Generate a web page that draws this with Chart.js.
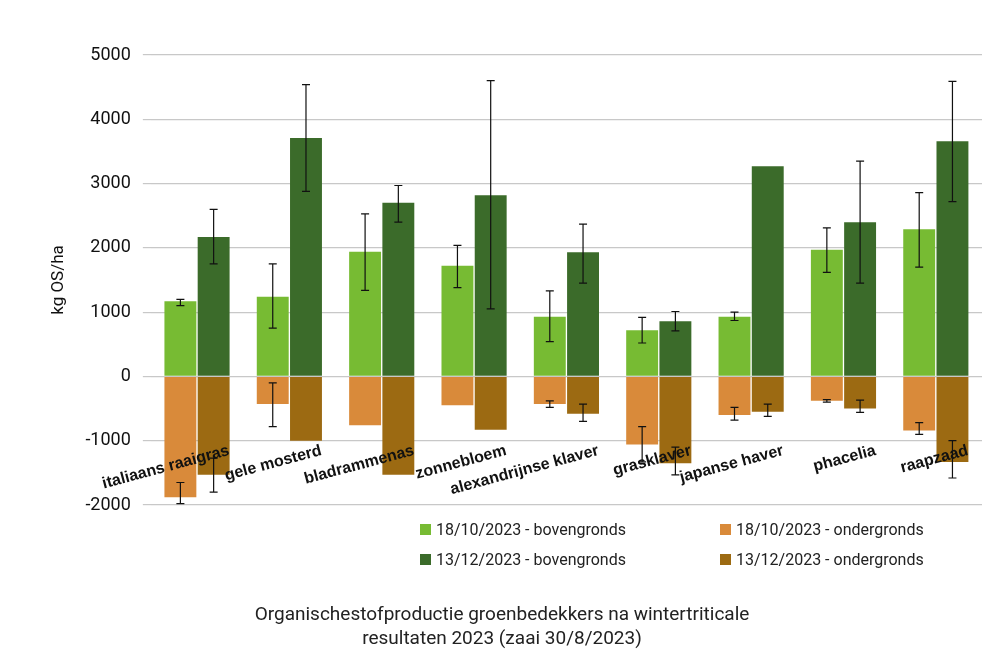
<!DOCTYPE html>
<html><head><meta charset="utf-8">
<script src="https://cdn.jsdelivr.net/npm/chart.js@4/dist/chart.umd.min.js"></script>
<style>
body{margin:0;background:#fff;font-family:Roboto,"Liberation Sans",sans-serif;}
#wrap{position:relative;width:1004px;height:669px;}
#lg{position:absolute;left:420px;top:520px;width:560px;font-size:16px;color:#222;}
.it{position:absolute;display:flex;align-items:center;white-space:nowrap}
.sw{width:11px;height:11px;margin-right:5px;display:inline-block}
#ttl{position:absolute;left:0;width:1004px;top:602px;text-align:center;font-size:19px;line-height:24px;color:#222;}
</style></head><body>
<div id="wrap"><canvas id="c" width="1004" height="669"></canvas>
<div id="lg"></div>
<div id="ttl">Organischestofproductie groenbedekkers na wintertriticale<br>resultaten 2023 (zaai 30/8/2023)</div>
</div>
<script>
const categories=["italiaans raaigras","gele mosterd","bladrammenas","zonnebloem","alexandrijnse klaver","grasklaver","japanse haver","phacelia","raapzaad"];
const bov1=[1170,1240,1940,1720,930,720,930,1970,2290];
const bov1Lo=[1100,750,1340,1380,540,520,870,1620,1700];
const bov1Hi=[1200,1750,2530,2040,1330,920,1000,2310,2860];
const ond1=[-1880,-430,-760,-450,-430,-1060,-600,-380,-840];
const ond1Lo=[-1980,-780,null,null,-480,-1330,-680,-400,-900];
const ond1Hi=[-1650,-100,null,null,-380,-780,-480,-360,-720];
const bov2=[2170,3710,2700,2820,1930,860,3270,2400,3660];
const bov2Lo=[1750,2880,2400,1050,1450,710,null,1450,2720];
const bov2Hi=[2600,4540,2970,4600,2370,1010,null,3350,4590];
const ond2=[-1530,-1000,-1530,-830,-580,-1350,-550,-500,-1330];
const ond2Lo=[-1800,null,null,null,-700,-1530,-620,-560,-1580];
const ond2Hi=[-1270,null,null,null,-430,-1100,-430,-370,-1000];
const yTicks=[-2000,-1000,0,1000,2000,3000,4000,5000];
const labels=["18/10/2023 - bovengronds","18/10/2023 - ondergronds","13/12/2023 - bovengronds","13/12/2023 - ondergronds"];
const colors=["#77bb33","#d98a3a","#3b6b2a","#9c6a12"];

const lg=document.getElementById('lg');
labels.forEach((l,i)=>{const d=document.createElement('div');d.className='it';
d.style.left=(i%2?300:0)+'px';d.style.top=(i<2?0:30)+'px';
d.innerHTML='<span class="sw" style="background:'+colors[i]+'"></span>'+l;lg.appendChild(d);});

const errs=[[bov1Lo,bov1Hi],[ond1Lo,ond1Hi],[bov2Lo,bov2Hi],[ond2Lo,ond2Hi]];
const errPlugin={id:'err',afterDatasetsDraw(ch){const c=ch.ctx,y=ch.scales.y;
c.save();c.strokeStyle='#111';c.lineWidth=1.2;
errs.forEach((e,di)=>{const m=ch.getDatasetMeta(di);m.data.forEach((b,i)=>{
if(e[0][i]==null)return;const x=b.x,a=y.getPixelForValue(e[0][i]),h=y.getPixelForValue(e[1][i]);
c.beginPath();c.moveTo(x,a);c.lineTo(x,h);c.moveTo(x-4,a);c.lineTo(x+4,a);c.moveTo(x-4,h);c.lineTo(x+4,h);c.stroke();});});
c.restore();}};
const catPlugin={id:'cats',afterDraw(ch){const c=ch.ctx,x=ch.scales.x,y=ch.scales.y;
c.save();c.font='bold 16px "Liberation Sans",Arial,sans-serif';c.fillStyle='#111';c.textAlign='right';c.textBaseline='middle';
categories.forEach((t,i)=>{const px=x.getPixelForTick(i)+32,py=y.getPixelForValue(-1150);
c.save();c.translate(px,py);c.rotate(-15*Math.PI/180);c.fillText(t,0,0);c.restore();});c.restore();}};

new Chart(document.getElementById('c'),{type:'bar',
data:{labels:categories,datasets:[
{label:labels[0],data:bov1,backgroundColor:colors[0],stack:'a'},
{label:labels[1],data:ond1,backgroundColor:colors[1],stack:'a'},
{label:labels[2],data:bov2,backgroundColor:colors[2],stack:'b'},
{label:labels[3],data:ond2,backgroundColor:colors[3],stack:'b'}]},
options:{responsive:false,animation:false,
layout:{padding:{left:45,right:22,top:55,bottom:156}},
plugins:{legend:{display:false},tooltip:{enabled:false}},
datasets:{bar:{categoryPercentage:0.72,barPercentage:0.96}},
scales:{x:{stacked:true,grid:{display:false},border:{display:false},ticks:{display:false}},
y:{stacked:true,min:-2000,max:5000,afterBuildTicks(s){s.ticks=yTicks.map(v=>({value:v}));},
grid:{color:'#c8c8c8',lineWidth:1.2},border:{display:false},
ticks:{color:'#111',font:{size:18,family:'Roboto'},padding:12,callback:v=>String(v)},
title:{display:true,text:'kg OS/ha',color:'#111',font:{size:17,family:'Roboto'}}}}},
plugins:[errPlugin,catPlugin]});
</script></body></html>
